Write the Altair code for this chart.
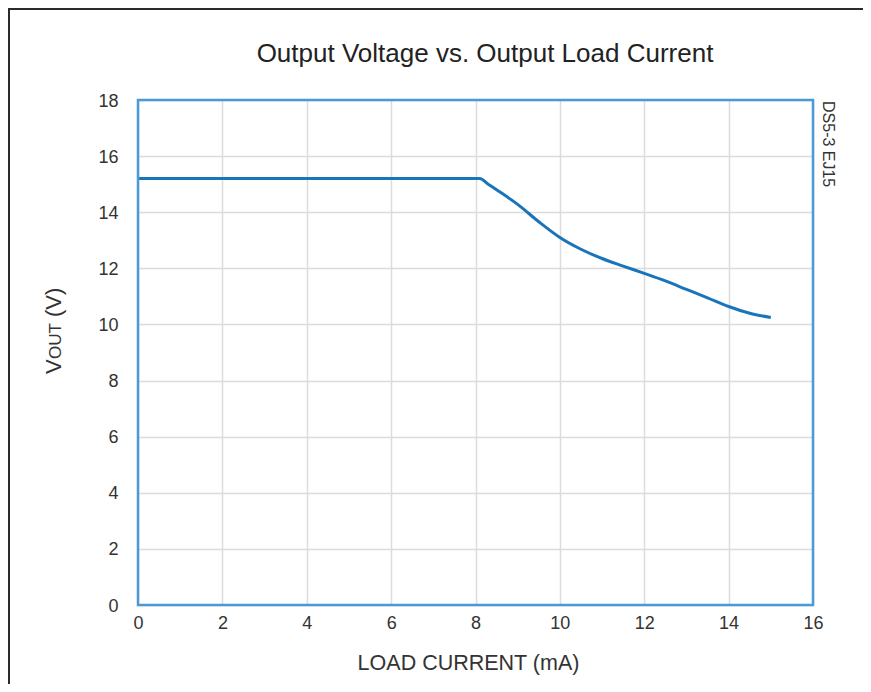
import altair as alt
import pandas as pd

# Data
load_current = [0, 2, 4, 6, 8.1, 8.3, 8.5, 9.0, 9.5, 10.0, 10.5, 11.0, 11.5, 12.0, 12.5, 13.0, 13.5, 14.0, 14.5, 15.0]
vout = [15.2, 15.2, 15.2, 15.2, 15.2, 15.0, 14.8, 14.28, 13.66, 13.1, 12.68, 12.35, 12.08, 11.82, 11.55, 11.25, 10.95, 10.64, 10.4, 10.25]
x_ticks = [0, 2, 4, 6, 8, 10, 12, 14, 16]
y_ticks = [0, 2, 4, 6, 8, 10, 12, 14, 16, 18]

df = pd.DataFrame({"current": load_current, "vout": vout})
one = pd.DataFrame({"a": [0]})

FONT = "Liberation Sans"
W, H = 675, 505
PL, PT, PR, PB = 130, 92, 50, 79
FRAME = "#4a9bd5"
TXT = "#333333"

line = alt.Chart(df).mark_line(
    color="#1a74ba", strokeWidth=3, interpolate="monotone"
).encode(
    x=alt.X("current:Q",
            scale=alt.Scale(domain=[0, 16], nice=False),
            axis=alt.Axis(values=x_ticks, title="LOAD CURRENT (mA)", domain=False, ticks=False,
                          labelFlush=False,
                          labelPadding=9, labelFontSize=18, labelColor=TXT, labelFont=FONT,
                          titleFont=FONT, titleFontSize=21.5, titleFontWeight="normal", titleColor=TXT,
                          titleX=330, titleY=58, titleBaseline="middle",
                          gridColor="#dcdcdc", gridWidth=1.5)),
    y=alt.Y("vout:Q",
            scale=alt.Scale(domain=[0, 18], nice=False),
            axis=alt.Axis(values=y_ticks, title=None, domain=False, ticks=False,
                          labelFlush=False,
                          labelPadding=20, labelFontSize=18, labelColor=TXT, labelFont=FONT,
                          labelBaseline="middle", labelOffset=1,
                          gridColor="#dcdcdc", gridWidth=1.5)),
)

base = alt.Chart(one)

frame = base.mark_rect(fill=None, stroke=FRAME, strokeWidth=2.5).encode(
    x=alt.value(0), x2=alt.value(W), y=alt.value(0), y2=alt.value(H))

title = base.mark_text(
    text="Output Voltage vs. Output Load Current", align="center", baseline="alphabetic",
    font=FONT, fontSize=26, color="#222222"
).encode(x=alt.value(347), y=alt.value(-38))

note = base.mark_text(
    text="DS5-3 EJ15", angle=90, align="left", baseline="middle",
    font=FONT, fontSize=16, color=TXT
).encode(x=alt.value(W + 15), y=alt.value(1))

ytitle_v = base.mark_text(
    text="V", angle=270, align="left", baseline="alphabetic",
    font=FONT, fontSize=22, color=TXT
).encode(x=alt.value(-77), y=alt.value(274))
ytitle_out = base.mark_text(
    text="OUT", angle=270, align="left", baseline="alphabetic",
    font=FONT, fontSize=17, color=TXT
).encode(x=alt.value(-77), y=alt.value(259))
ytitle_rest = base.mark_text(
    text="(V)", angle=270, align="left", baseline="alphabetic",
    font=FONT, fontSize=22, color=TXT
).encode(x=alt.value(-77), y=alt.value(217))

border_left = base.mark_rule(color="#2b2b2b", strokeWidth=2).encode(
    x=alt.value(-PL + 1), y=alt.value(-PT), y2=alt.value(H + PB))
border_top = base.mark_rule(color="#2b2b2b", strokeWidth=2).encode(
    y=alt.value(-PT + 1), x=alt.value(-PL), x2=alt.value(W + PR))

chart = alt.layer(
    line, frame, title, note, ytitle_v, ytitle_out, ytitle_rest, border_left, border_top
).properties(
    width=W, height=H,
    autosize=alt.AutoSizeParams(type="none"),
    padding={"left": PL, "top": PT, "right": PR, "bottom": PB},
).configure_view(
    stroke=None
).configure(background="white")

chart.save("out.html", embed_options={"renderer": "svg", "actions": False})
